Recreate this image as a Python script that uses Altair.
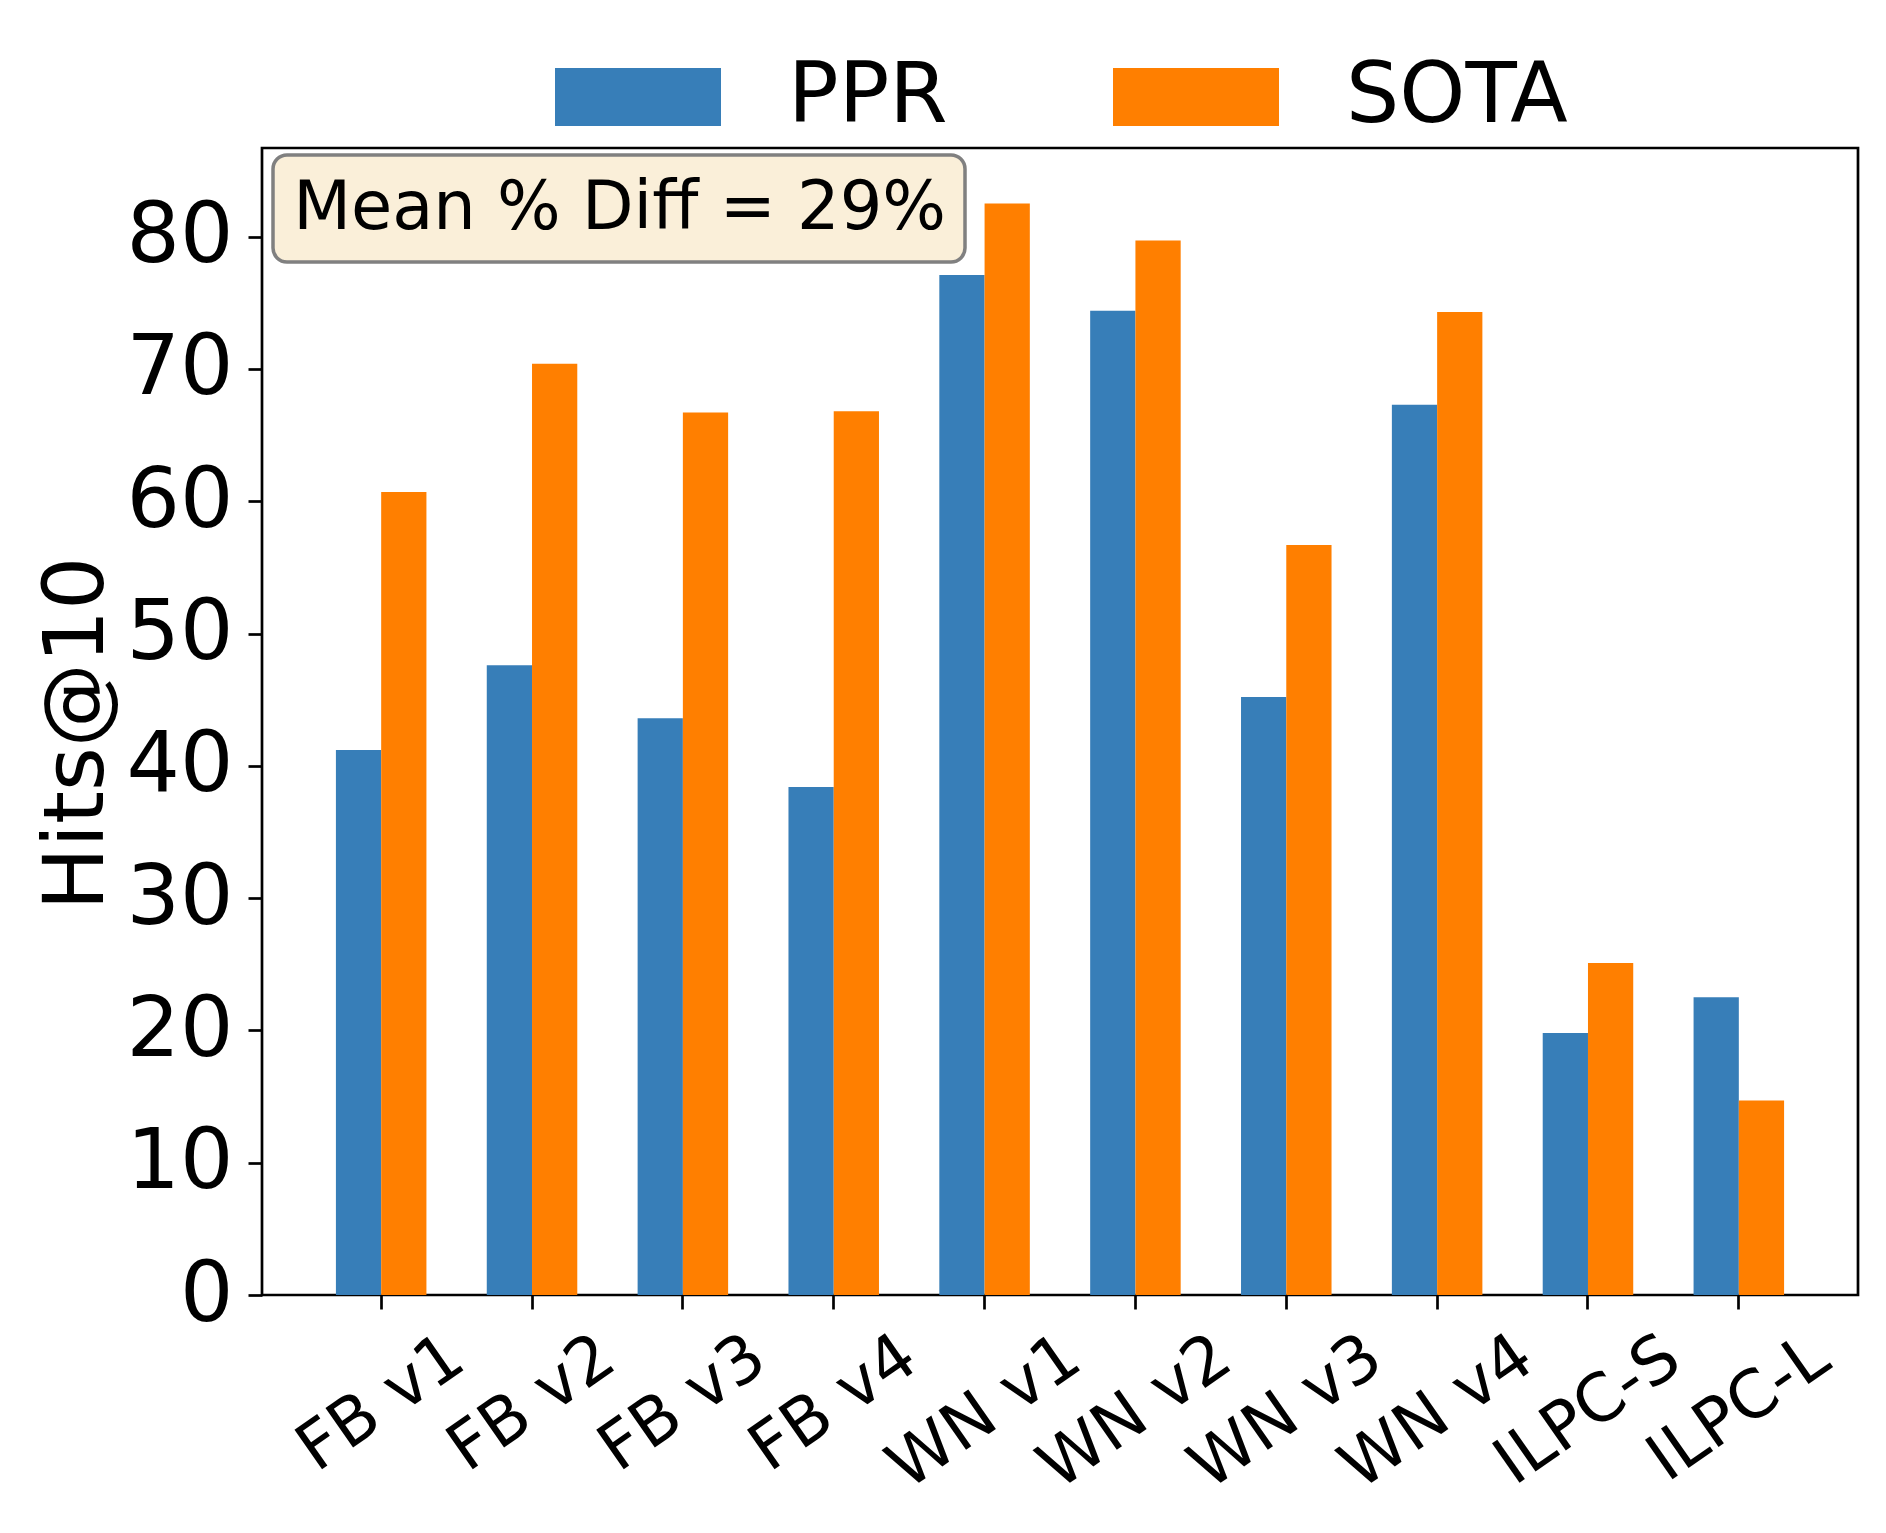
import altair as alt
import pandas as pd

categories = ["FB v1", "FB v2", "FB v3", "FB v4", "WN v1", "WN v2", "WN v3", "WN v4", "ILPC-S", "ILPC-L"]
ppr = [41.2, 47.6, 43.6, 38.4, 77.1, 74.4, 45.2, 67.3, 19.8, 22.5]
sota = [60.7, 70.4, 66.7, 66.8, 82.5, 79.7, 56.7, 74.3, 25.1, 14.7]
series = ["PPR", "SOTA"]
colors = ["#377eb8", "#ff7f00"]
y_ticks = [0, 10, 20, 30, 40, 50, 60, 70, 80]
annotation = "Mean % Diff = 29%"

rows = []
for c, a, b in zip(categories, ppr, sota):
    rows.append({"dataset": c, "method": "PPR", "value": a})
    rows.append({"dataset": c, "method": "SOTA", "value": b})
df = pd.DataFrame(rows)

FONT = "DejaVu Sans"
W, H = 1596, 1147

bars = alt.Chart(df).mark_bar().encode(
    x=alt.X(
        "dataset:N",
        sort=categories,
        title=None,
        scale=alt.Scale(paddingInner=0.4, paddingOuter=0.49),
        axis=alt.Axis(
            labelAngle=-35,
            labelAlign="center",
            labelBaseline="middle",
            labelFontSize=66,
            labelFont=FONT,
            labelColor="black",
            labelLimit=0,
            labelPadding={
                "condition": [
                    {"test": "indexof(datum.value, 'WN') == 0", "value": 103},
                    {"test": "datum.value == 'ILPC-S'", "value": 101},
                    {"test": "datum.value == 'ILPC-L'", "value": 99},
                ],
                "value": 94,
            },
            labelOverlap=False,
            labelBound=False,
            tickSize=14,
            tickWidth=2.7,
            tickColor="black",
            domain=False,
            grid=False,
        ),
    ),
    xOffset=alt.XOffset("method:N", sort=series),
    y=alt.Y(
        "value:Q",
        scale=alt.Scale(domain=[0, 86.7], nice=False, zero=True),
        axis=alt.Axis(
            values=y_ticks,
            title="Hits@10",
            titleFontSize=84,
            titleFont=FONT,
            titleFontWeight="normal",
            titleColor="black",
            titleAngle=-90,
            titleAlign="center",
            titleBaseline="alphabetic",
            titleX=-160,
            titleY=585,
            labelFontSize=84,
            labelFont=FONT,
            labelColor="black",
            labelPadding=15,
            labelOverlap=False,
            labelFlush=False,
            labelLimit=0,
            tickSize=14,
            tickWidth=2.7,
            tickColor="black",
            domain=False,
            grid=False,
        ),
    ),
    color=alt.Color(
        "method:N",
        sort=series,
        scale=alt.Scale(domain=series, range=colors),
        legend=alt.Legend(
            orient="none",
            legendX=334,
            legendY=-93,
            direction="horizontal",
            title=None,
            symbolType="M-2.862,-1H2.862V1H-2.862Z",
            symbolSize=3364,
            symbolStrokeWidth=0,
            symbolOpacity=1,
            labelFontSize=84,
            labelFont=FONT,
            labelColor="black",
            labelLimit=0,
            labelOffset=108,
            columnPadding=165,
            padding=0,
        ),
    ),
)

ann_df = pd.DataFrame({"label": [annotation]})
box = alt.Chart(ann_df).mark_rect(
    fill="#faefd9", stroke="#808080", strokeWidth=3.5, cornerRadius=14
).encode(
    x=alt.value(11), x2=alt.value(703), y=alt.value(7), y2=alt.value(114)
)
txt = alt.Chart(ann_df).mark_text(
    font=FONT, fontSize=67, color="black", align="center", baseline="alphabetic"
).encode(
    x=alt.value(357.6), y=alt.value(81.3), text="label:N"
)

chart = alt.layer(bars, box, txt).properties(
    width=W,
    height=H,
    autosize=alt.AutoSizeParams(type="none"),
    padding={"left": 254, "top": 140, "right": 20, "bottom": 230},
    background="white",
).configure_view(
    stroke="black", strokeWidth=2.7
)

chart.save("out.html", embed_options={"renderer": "svg", "actions": False})
